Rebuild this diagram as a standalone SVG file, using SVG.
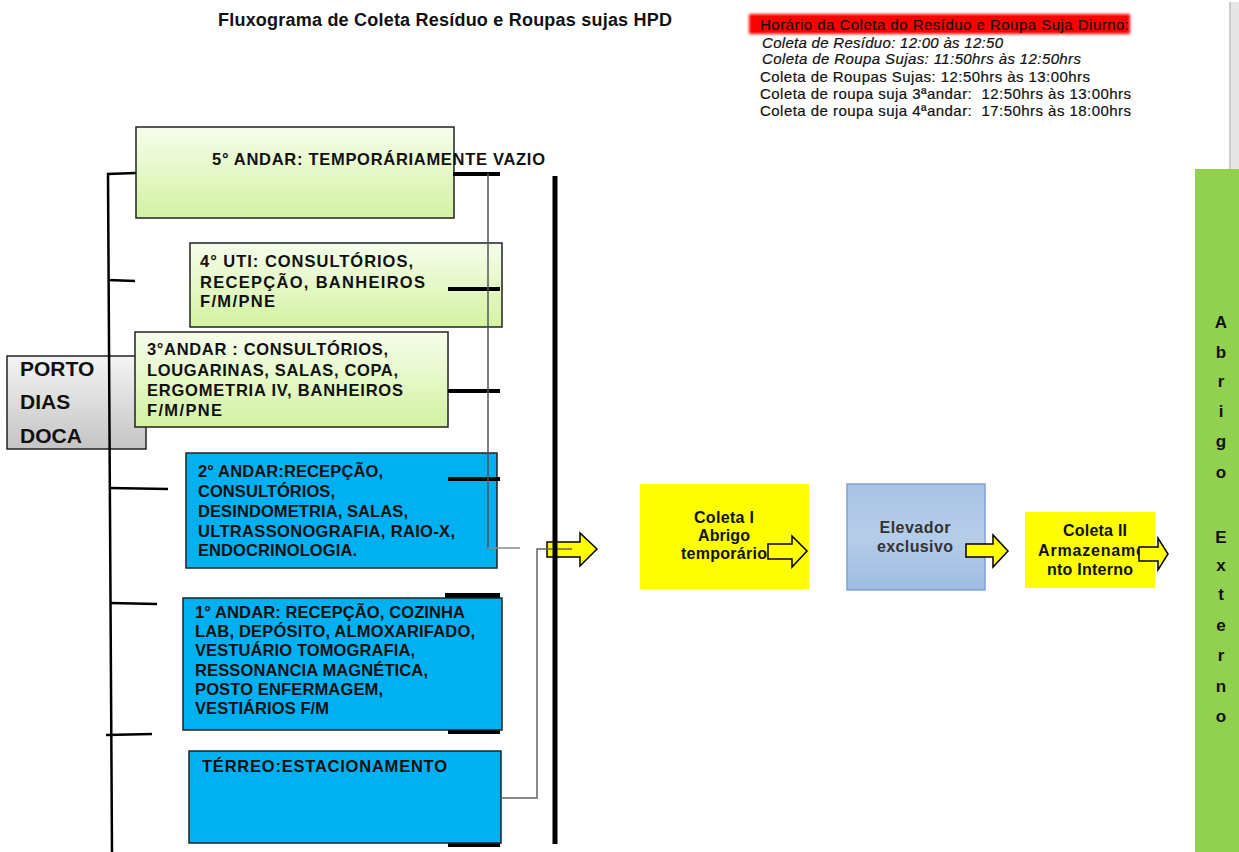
<svg xmlns="http://www.w3.org/2000/svg" width="1239" height="852" viewBox="0 0 1239 852">
<defs>
<linearGradient id="gGreen" x1="0" y1="0" x2="0" y2="1"><stop offset="0" stop-color="#f6fdec"/><stop offset="1" stop-color="#d3f2a2"/></linearGradient>
<linearGradient id="gGray" x1="0" y1="0" x2="0" y2="1"><stop offset="0" stop-color="#f4f4f4"/><stop offset="1" stop-color="#c4c4c4"/></linearGradient>
<linearGradient id="gElev" x1="0" y1="0" x2="0" y2="1"><stop offset="0" stop-color="#a9c3e6"/><stop offset="0.5" stop-color="#b6cdea"/><stop offset="1" stop-color="#9dbbe0"/></linearGradient>
<filter id="blur" x="-5%" y="-40%" width="110%" height="180%"><feGaussianBlur stdDeviation="1.5"/></filter>
</defs>
<style>
text{font-family:"Liberation Sans",Arial,sans-serif;fill:#111}
.fl{font-size:16.5px;font-weight:bold}
.hd{font-size:15px;stroke:#111;stroke-width:0.2}
.it{font-style:italic}
.bx{font-size:16px;font-weight:bold;text-anchor:middle}
.ab{font-size:17px;font-weight:bold;text-anchor:middle}
.box{stroke:#222;stroke-width:1.5}
.blue{fill:#00b0f0}
.green{fill:url(#gGreen)}
.thick{stroke:#000;stroke-width:4;fill:none}
.bar{fill:#000}
.thin{stroke:#555;stroke-width:1.5;fill:none}
.arrow{stroke:#000;stroke-width:1.5}
</style>
<rect width="1239" height="852" fill="#fff"/>

<!-- title and schedule -->
<text x="218" y="26" style="font-size:18px;font-weight:bold" textLength="454">Fluxograma de Coleta Resíduo e Roupas sujas HPD</text>
<rect x="749" y="14" width="381" height="20" fill="#ff0000" filter="url(#blur)"/>
<rect x="752" y="16" width="375" height="16" fill="#ff0000"/>
<text class="hd" x="760" y="30" textLength="369">Horário da Coleta do Resíduo e Roupa Suja Diurno:</text>
<text class="hd it" x="762" y="48" textLength="241">Coleta de Resíduo: 12:00 às 12:50</text>
<text class="hd it" x="762" y="64" textLength="319">Coleta de Roupa Sujas: 11:50hrs às 12:50hrs</text>
<text class="hd" x="760" y="82" textLength="330">Coleta de Roupas Sujas: 12:50hrs às 13:00hrs</text>
<text class="hd" x="760" y="99" textLength="371" xml:space="preserve">Coleta de roupa suja 3ªandar:  12:50hrs às 13:00hrs</text>
<text class="hd" x="760" y="116" textLength="371" xml:space="preserve">Coleta de roupa suja 4ªandar:  17:50hrs às 18:00hrs</text>

<!-- right gray strip -->
<rect x="1229" y="2" width="10" height="167" fill="#e6e6e6"/>
<rect x="1229" y="2" width="2" height="167" fill="#cdcdcd"/>

<!-- Abrigo Externo -->
<g id="abrigo-externo">
<rect x="1195" y="169" width="44" height="683" fill="#92d050"/>
<text class="ab" x="1221" y="328">A</text>
<text class="ab" x="1221" y="358">b</text>
<text class="ab" x="1221" y="387">r</text>
<text class="ab" x="1221" y="417">i</text>
<text class="ab" x="1221" y="447">g</text>
<text class="ab" x="1221" y="478">o</text>
<text class="ab" x="1221" y="543">E</text>
<text class="ab" x="1221" y="571">x</text>
<text class="ab" x="1221" y="600">t</text>
<text class="ab" x="1221" y="631">e</text>
<text class="ab" x="1221" y="661">r</text>
<text class="ab" x="1221" y="692">n</text>
<text class="ab" x="1221" y="722">o</text>
</g>

<!-- Porto Dias Doca -->
<g id="porto">
<rect x="7" y="356" width="139" height="93" fill="url(#gGray)" stroke="#222" stroke-width="1.5"/>
<text x="20" y="376" style="font-size:21px;font-weight:bold">PORTO</text>
<text x="20" y="409" style="font-size:21px;font-weight:bold">DIAS</text>
<text x="20" y="443" style="font-size:21px;font-weight:bold">DOCA</text>
</g>

<!-- left bracket -->
<g id="bracket" stroke="#000" stroke-width="2.5" fill="none">
<path d="M136 173 L108 174 L112 852"/>
<path d="M108 280 L135 281"/>
<path d="M110 488 L168 489"/>
<path d="M110 603 L157 604"/>
<path d="M106 735 L152 734"/>
</g>

<!-- floors -->
<g id="andar5">
<rect class="box green" x="136" y="127" width="318" height="91"/>
<text class="fl" x="212" y="165" textLength="333">5° ANDAR: TEMPORÁRIAMENTE VAZIO</text>
</g>
<g id="andar4">
<rect class="box green" x="190" y="243" width="312" height="84"/>
<text class="fl" x="200" y="267" textLength="213">4° UTI: CONSULTÓRIOS,</text>
<text class="fl" x="200" y="288" textLength="225">RECEPÇÃO, BANHEIROS</text>
<text class="fl" x="200" y="307" textLength="75">F/M/PNE</text>
</g>
<g id="andar3">
<rect class="box green" x="135" y="332" width="313" height="95"/>
<text class="fl" x="147" y="355" textLength="241">3°ANDAR : CONSULTÓRIOS,</text>
<text class="fl" x="147" y="376" textLength="251">LOUGARINAS, SALAS, COPA,</text>
<text class="fl" x="147" y="396" textLength="256">ERGOMETRIA IV, BANHEIROS</text>
<text class="fl" x="147" y="416" textLength="75">F/M/PNE</text>
</g>
<g id="andar2">
<rect class="box blue" x="186" y="453" width="311" height="115"/>
<text class="fl" x="198" y="477" textLength="185">2° ANDAR:RECEPÇÃO,</text>
<text class="fl" x="198" y="497" textLength="137">CONSULTÓRIOS,</text>
<text class="fl" x="198" y="517" textLength="210">DESINDOMETRIA, SALAS,</text>
<text class="fl" x="198" y="537" textLength="257">ULTRASSONOGRAFIA, RAIO-X,</text>
<text class="fl" x="198" y="556" textLength="159">ENDOCRINOLOGIA.</text>
</g>
<g id="andar1">
<rect class="bar" x="445" y="593" width="55" height="6"/>
<rect class="bar" x="448" y="728" width="52" height="6"/>
<rect class="box blue" x="183" y="598" width="319" height="132"/>
<text class="fl" x="195" y="618" textLength="270">1° ANDAR: RECEPÇÃO, COZINHA</text>
<text class="fl" x="195" y="637" textLength="280">LAB, DEPÓSITO, ALMOXARIFADO,</text>
<text class="fl" x="195" y="656" textLength="220">VESTUÁRIO TOMOGRAFIA,</text>
<text class="fl" x="195" y="676" textLength="233">RESSONANCIA MAGNÉTICA,</text>
<text class="fl" x="195" y="695" textLength="188">POSTO ENFERMAGEM,</text>
<text class="fl" x="195" y="714" textLength="134">VESTIÁRIOS F/M</text>
</g>
<g id="terreo">
<rect class="bar" x="448" y="839" width="52" height="8"/>
<rect class="box blue" x="189" y="751" width="312" height="92"/>
<text class="fl" x="202" y="772" textLength="245">TÉRREO:ESTACIONAMENTO</text>
</g>

<!-- Coleta I -->
<g id="coleta1">
<rect x="640" y="484" width="169" height="105" fill="#ffff00"/>
<text class="bx" x="724" y="523" textLength="60">Coleta I</text>
<text class="bx" x="724" y="541" textLength="52">Abrigo</text>
<text class="bx" x="724" y="559" textLength="86">temporário</text>
</g>
<!-- Elevador -->
<g id="elevador">
<rect x="847" y="484" width="138" height="106" fill="url(#gElev)" stroke="#7ea4d4" stroke-width="1.5"/>
<text class="bx" x="915" y="533" style="fill:#333" textLength="71">Elevador</text>
<text class="bx" x="915" y="552" style="fill:#333" textLength="76">exclusivo</text>
</g>
<!-- Coleta II -->
<g id="coleta2">
<rect x="1025" y="512" width="130" height="76" fill="#ffff00"/>
<text class="bx" x="1095" y="536" textLength="64">Coleta II</text>
<text x="1038" y="556" style="font-size:16px;font-weight:bold" textLength="107">Armazename</text>
<text class="bx" x="1090" y="575" textLength="86">nto Interno</text>
</g>

<!-- connectors -->
<g id="connectors">
<path class="arrow" fill="#ffff00" d="M547 542 L580 542 L580 533 L597 549 L580 566 L580 557 L547 557 Z"/>
<path class="arrow" fill="none" d="M768 544 L792 544 L792 536 L807 551 L792 567 L792 559 L768 559 Z"/>
<path class="arrow" fill="#ffff00" d="M966 544 L993 544 L993 535 L1008 551 L993 567 L993 557 L966 557 Z"/>
<path class="arrow" fill="#ffff00" d="M1139 547 L1158 547 L1158 538 L1168 554 L1158 570 L1158 561 L1139 561 Z"/>
<path class="thick" d="M453 174 L500 174"/>
<path class="thick" d="M448 289 L500 289"/>
<path class="thick" d="M448 391 L500 391"/>
<path class="thick" d="M448 479 L500 479"/>
<path class="thin" d="M488 173 L488 548"/>
<path d="M488 548 L520 548" stroke="#888" stroke-width="1.5" fill="none"/>
<path d="M501 798 L537 798 L537 549 L572 549" stroke="#666" stroke-width="1.5" fill="none"/>
<path d="M555 176 L555 844" stroke="#000" stroke-width="5" fill="none"/>
</g>
</svg>
